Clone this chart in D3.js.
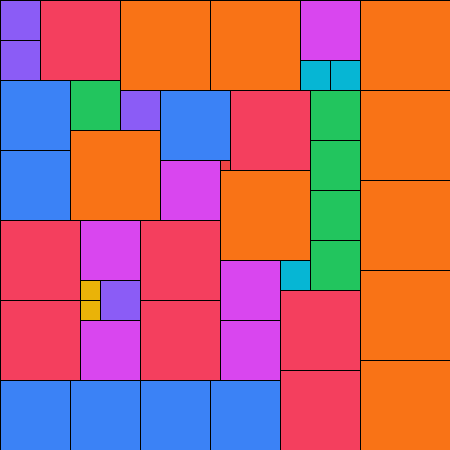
<!DOCTYPE html>
<html>
<head>
<meta charset="utf-8">
<script src="https://cdn.jsdelivr.net/npm/d3@7"></script>
<style>
  html, body { margin: 0; padding: 0; background: #fff; }
  svg { display: block; }
</style>
</head>
<body>
<div id="chart"></div>
<script>
// Category of each square
const groups = [
  "violet","violet","rose","orange","orange","fuchsia","cyan","cyan","orange",
  "blue","green","violet","blue","rose","green","orange",
  "blue","orange","fuchsia","red","orange","green","green","green","orange",
  "rose","fuchsia","rose","fuchsia","cyan","orange",
  "yellow","yellow","violet",
  "rose","fuchsia","rose","fuchsia","rose","orange",
  "blue","blue","blue","blue","rose"
];
// Grid column (data units)
const cols = [
  0,0,4,12,21,30,30,33,36,
  0,7,12,16,23,31,36,
  0,7,16,22,22,31,31,31,36,
  0,8,14,22,28,36,
  8,8,10,
  0,8,14,22,28,36,
  0,7,14,21,28
];
// Grid row (data units)
const rows = [
  0,4,0,0,0,0,6,6,0,
  8,8,9,9,9,9,9,
  15,13,16,16,17,14,19,24,18,
  22,22,22,26,26,27,
  28,30,28,
  30,32,30,32,29,36,
  38,38,38,38,37
];
// Side length of each square (data units)
const sides = [
  4,4,8,9,9,6,3,3,9,
  7,5,4,7,8,5,9,
  7,9,6,1,9,5,5,5,9,
  8,6,8,6,3,9,
  2,2,4,
  8,6,8,6,8,9,
  7,7,7,7,8
];

const palette = {
  violet: "#8b5cf6", rose: "#f43f5e", orange: "#f97316", fuchsia: "#d946ef",
  cyan: "#06b6d4", blue: "#3b82f6", green: "#22c55e", yellow: "#eab308", red: "#ef4444"
};

const W = 450, H = 450;
const data = groups.map((g, i) => ({ group: g, c: cols[i], r: rows[i], s: sides[i] }));

const x = d3.scaleLinear().domain([0, 45]).range([0, W]);
const y = d3.scaleLinear().domain([0, 45]).range([0, H]);
const color = d3.scaleOrdinal().domain(Object.keys(palette)).range(Object.values(palette));

const svg = d3.select("#chart").append("svg").attr("width", W).attr("height", H);

svg.selectAll("rect")
  .data(data)
  .join("rect")
  .attr("x", d => x(d.c) + 0.5)
  .attr("y", d => y(d.r) + 0.5)
  .attr("width", d => x(d.c + d.s) - x(d.c))
  .attr("height", d => y(d.r + d.s) - y(d.r))
  .attr("fill", d => color(d.group))
  .attr("stroke", "#000")
  .attr("stroke-width", 1);
</script>
</body>
</html>
